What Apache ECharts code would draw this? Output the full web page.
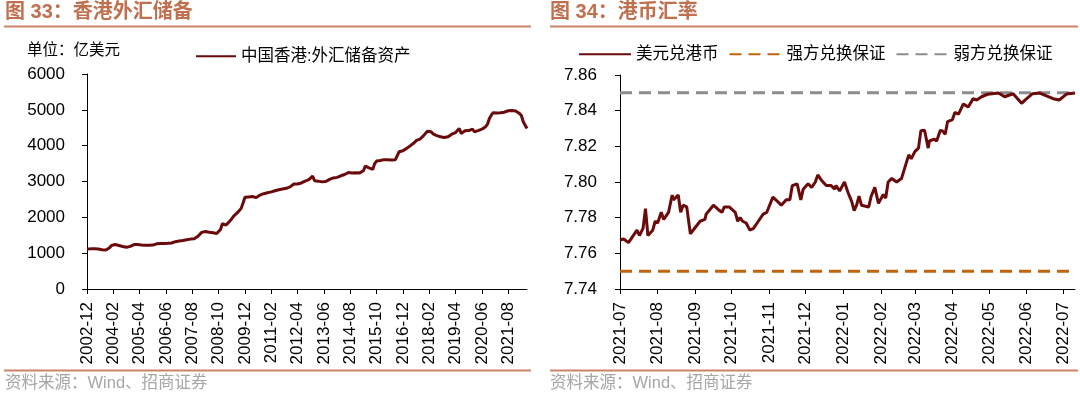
<!DOCTYPE html>
<html>
<head>
<meta charset="utf-8">
<script src="https://cdn.jsdelivr.net/npm/echarts@6/dist/echarts.min.js"></script>
<style>html,body{margin:0;padding:0;background:#fff;}#c{width:1080px;height:395px;}</style>
</head>
<body>
<div id="c"></div>
<script>
// ---------- Left chart: HK FX reserves (monthly, 2002-12 .. 2022-06), 亿美元 ----------
const reserveStart = [2002, 12];
const reserveValues = [
  1119,
  1118,1120,1122,1125,1122,1115,1105,1095,1090,1088,1100,1150,
  1215,1246,1240,1228,1215,1200,1188,1175,1163,1170,1190,1230,
  1240,1246,1240,1235,1230,1225,1222,1220,1220,1222,1225,1245,
  1260,1274,1270,1265,1268,1272,1276,1280,1285,1300,1320,1330,
  1339,1345,1355,1365,1375,1385,1392,1395,1400,1420,1470,1525,
  1580,1600,1605,1595,1585,1575,1570,1560,1550,1520,1660,1825,
  1800,1785,1840,1900,1960,2036,2080,2130,2190,2250,2400,2558,
  2560,2570,2575,2580,2560,2550,2600,2620,2650,2660,2640,2686,
  2700,2710,2720,2740,2760,2770,2780,2790,2800,2810,2820,2850,
  2880,2930,2949,2930,2935,2960,2990,3010,3041,3050,3070,3150,
  3020,3030,3010,3000,2990,2985,3000,3030,3060,3080,3100,3115,
  3115,3140,3160,3180,3195,3208,3250,3300,3240,3240,3245,3250,
  3240,3245,3300,3430,3420,3380,3360,3340,3500,3570,3590,3585,
  3600,3610,3600,3605,3610,3600,3605,3610,3600,3830,3860,3860,
  3880,3925,3960,4000,4040,4080,4140,4160,4180,4200,4280,4310,
  4400,4418,4390,4330,4300,4280,4260,4250,4240,4230,4225,4247,
  4290,4320,4360,4365,4380,4480,4340,4350,4415,4380,4420,4455,
  4460,4390,4400,4420,4440,4460,4500,4530,4600,4760,4850,4920,
  4920,4915,4905,4920,4925,4935,4945,4975,4960,4980,4995,4970,
  4960,4900,4840,4670,4640,4480
];
const reserveMonths = [];
for (let i = 0; i < reserveValues.length; i++) {
  const k = reserveStart[1] - 1 + i;
  const y = reserveStart[0] + Math.floor(k / 12);
  const m = (k % 12) + 1;
  reserveMonths.push(y + '-' + String(m).padStart(2, '0'));
}
const reserveTicks = [0, 1000, 2000, 3000, 4000, 5000, 6000];

// ---------- Right chart: USD/HKD ----------
const fxDates = [
  '2021-07-01','2021-07-04','2021-07-08','2021-07-15','2021-07-17','2021-07-20','2021-07-22','2021-07-24','2021-07-28','2021-07-30',
  '2021-08-01','2021-08-04','2021-08-06','2021-08-10','2021-08-11','2021-08-13','2021-08-14','2021-08-18','2021-08-20','2021-08-22',
  '2021-08-25','2021-08-28','2021-09-05','2021-09-09','2021-09-10','2021-09-16','2021-09-21','2021-09-23','2021-09-25','2021-09-29',
  '2021-10-04','2021-10-06','2021-10-08','2021-10-10','2021-10-13','2021-10-16','2021-10-19','2021-10-23','2021-10-27','2021-10-30',
  '2021-11-04','2021-11-11','2021-11-15','2021-11-18','2021-11-20','2021-11-24','2021-11-27','2021-11-29','2021-12-03','2021-12-06',
  '2021-12-09','2021-12-11','2021-12-14','2021-12-18','2021-12-22','2021-12-25','2021-12-26','2021-12-29','2022-01-02','2022-01-05',
  '2022-01-08','2022-01-10','2022-01-12','2022-01-14','2022-01-16','2022-01-22','2022-01-24','2022-01-27','2022-01-30','2022-02-03',
  '2022-02-05','2022-02-07','2022-02-10','2022-02-14','2022-02-18','2022-02-21','2022-02-24','2022-02-26','2022-03-01','2022-03-04',
  '2022-03-06','2022-03-09','2022-03-12','2022-03-13','2022-03-17','2022-03-19','2022-03-22','2022-03-24','2022-03-26','2022-03-28',
  '2022-04-01','2022-04-03','2022-04-06','2022-04-10','2022-04-14','2022-04-18','2022-04-21','2022-04-25','2022-04-30','2022-05-09',
  '2022-05-14','2022-05-21','2022-05-28','2022-05-31','2022-06-06','2022-06-12','2022-06-23','2022-06-28','2022-07-04','2022-07-11'
];
const fxValues = [
  7.7675,7.768,7.766,7.773,7.770,7.774,7.785,7.770,7.773,7.778,
  7.777,7.783,7.779,7.783,7.784,7.7927,7.790,7.7927,7.783,7.787,
  7.786,7.771,7.778,7.779,7.782,7.787,7.784,7.783,7.786,7.786,
  7.783,7.778,7.780,7.778,7.777,7.773,7.774,7.778,7.782,7.783,
  7.7915,7.787,7.790,7.790,7.798,7.799,7.790,7.796,7.799,7.797,
  7.800,7.804,7.801,7.798,7.798,7.796,7.798,7.795,7.800,7.794,
  7.789,7.784,7.787,7.792,7.787,7.786,7.792,7.797,7.788,7.793,
  7.791,7.800,7.802,7.800,7.802,7.8086,7.8152,7.813,7.817,7.819,
  7.8288,7.829,7.819,7.823,7.824,7.823,7.829,7.8285,7.8268,7.8339,
  7.835,7.839,7.838,7.8438,7.842,7.8467,7.846,7.8478,7.8492,7.8499,
  7.8478,7.8495,7.8441,7.846,7.8495,7.8499,7.8467,7.846,7.8493,7.8499
];
const fxAxisStart = '2021-07-01';
const fxAxisEnd = '2022-07-11';
const strongSide = 7.75;
const weakSide = 7.85;
const fxTicks = [7.74, 7.76, 7.78, 7.80, 7.82, 7.84, 7.86];

const CJK = 'Liberation Sans, Arial, Noto Sans CJK SC';
const txt = '#000';

const chart = echarts.init(document.getElementById('c'), null, {renderer: 'canvas'});
const parseD = s => { const p = s.split('-').map(Number); return new Date(p[0], p[1]-1, p[2]).getTime(); };
const noSym = {color: 'rgba(0,0,0,0)', borderColor: 'rgba(0,0,0,0)', borderWidth: 0, opacity: 0};

chart.setOption({
  animation: false,
  backgroundColor: '#fff',
  textStyle: {fontFamily: CJK},
  graphic: [
    {type: 'text', left: 5, top: 2, style: {text: '图 33：香港外汇储备', font: 'bold 20px ' + CJK, fill: '#C0704E'}},
    {type: 'text', left: 550, top: 2, style: {text: '图 34：港币汇率', font: 'bold 20px ' + CJK, fill: '#C0704E'}},
    {type: 'line', shape: {x1: 4, y1: 26.5, x2: 531, y2: 26.5}, style: {stroke: '#CC8468', lineWidth: 2}},
    {type: 'line', shape: {x1: 550, y1: 26.5, x2: 1078, y2: 26.5}, style: {stroke: '#CC8468', lineWidth: 2}},
    {type: 'line', shape: {x1: 4, y1: 370.5, x2: 531, y2: 370.5}, style: {stroke: '#CC8468', lineWidth: 2}},
    {type: 'line', shape: {x1: 550, y1: 370.5, x2: 1078, y2: 370.5}, style: {stroke: '#CC8468', lineWidth: 2}},
    {type: 'text', left: 5, top: 375, style: {text: '资料来源：Wind、招商证券', font: '16.5px ' + CJK, fill: '#A6A6A6'}},
    {type: 'text', left: 550, top: 375, style: {text: '资料来源：Wind、招商证券', font: '16.5px ' + CJK, fill: '#A6A6A6'}},
    {type: 'text', left: 27, top: 43, style: {text: '单位：亿美元', font: '15.5px ' + CJK, fill: txt}}
  ],
  legend: [
    {data: ['中国香港:外汇储备资产'], left: 190, top: 43, itemWidth: 40, itemHeight: 14, itemGap: 10,
     itemStyle: noSym,
     textStyle: {fontSize: 16.5, color: txt, fontFamily: CJK}},
    {data: ['美元兑港币', '强方兑换保证', '弱方兑换保证'], left: 573, top: 41, itemWidth: 52, itemHeight: 14, itemGap: 10,
     itemStyle: noSym,
     textStyle: {fontSize: 16.5, color: txt, fontFamily: CJK}}
  ],
  grid: [
    {left: 87, top: 74, width: 440, height: 215, containLabel: false},
    {left: 620, top: 75, width: 455, height: 214, containLabel: false}
  ],
  xAxis: [
    {type: 'category', gridIndex: 0, data: reserveMonths, boundaryGap: false,
     axisLine: {lineStyle: {color: '#000', width: 1}},
     axisTick: {interval: 13, length: 5, lineStyle: {color: '#000'}},
     axisLabel: {interval: 13, rotate: 90, margin: 13, color: txt, fontSize: 17, fontFamily: 'Liberation Sans, Arial'},
     splitLine: {show: false}},
    {type: 'time', gridIndex: 1, min: parseD(fxAxisStart), max: parseD(fxAxisEnd),
     splitNumber: 12, minInterval: 28 * 86400000, maxInterval: 31 * 86400000,
     axisLine: {lineStyle: {color: '#000', width: 1}},
     axisTick: {length: 5, lineStyle: {color: '#000'}},
     axisLabel: {rotate: 90, margin: 13, color: txt, fontSize: 17, fontFamily: 'Liberation Sans, Arial', formatter: '{yyyy}-{MM}', hideOverlap: false},
     splitLine: {show: false}, minorTick: {show: false}}
  ],
  yAxis: [
    {type: 'value', gridIndex: 0, min: reserveTicks[0], max: reserveTicks[reserveTicks.length-1], interval: 1000,
     axisLine: {show: true, lineStyle: {color: '#000', width: 1}},
     axisTick: {show: true, length: 5, lineStyle: {color: '#000'}},
     axisLabel: {margin: 22, color: txt, fontSize: 17, fontFamily: 'Liberation Sans, Arial', formatter: v => String(v)},
     splitLine: {show: false}},
    {type: 'value', gridIndex: 1, min: fxTicks[0], max: fxTicks[fxTicks.length-1], interval: 0.02,
     axisLine: {show: true, lineStyle: {color: '#000', width: 1}},
     axisTick: {show: true, length: 5, lineStyle: {color: '#000'}},
     axisLabel: {margin: 23, color: txt, fontSize: 17, fontFamily: 'Liberation Sans, Arial', formatter: v => v.toFixed(2)},
     splitLine: {show: false}}
  ],
  series: [
    {name: '中国香港:外汇储备资产', type: 'line', xAxisIndex: 0, yAxisIndex: 0, data: reserveValues,
     showSymbol: false, symbol: 'none', color: '#6B0A0A', lineStyle: {width: 3, color: '#6B0A0A'}},
    {name: '美元兑港币', type: 'line', xAxisIndex: 1, yAxisIndex: 1,
     data: fxDates.map((d, i) => [parseD(d), fxValues[i]]),
     showSymbol: false, symbol: 'none', color: '#6B0A0A', lineStyle: {width: 3, color: '#6B0A0A'}, z: 5},
    {name: '强方兑换保证', type: 'line', xAxisIndex: 1, yAxisIndex: 1,
     data: [[parseD(fxAxisStart), strongSide], [parseD(fxAxisEnd), strongSide]],
     showSymbol: false, symbol: 'none', color: '#C0650F', lineStyle: {width: 3, color: '#C0650F', type: [12, 7]}},
    {name: '弱方兑换保证', type: 'line', xAxisIndex: 1, yAxisIndex: 1,
     data: [[parseD(fxAxisStart), weakSide], [parseD(fxAxisEnd), weakSide]],
     showSymbol: false, symbol: 'none', color: '#8C8C8C', lineStyle: {width: 3, color: '#8C8C8C', type: [12, 7]}, z: 3}
  ]
});
</script>
</body>
</html>
